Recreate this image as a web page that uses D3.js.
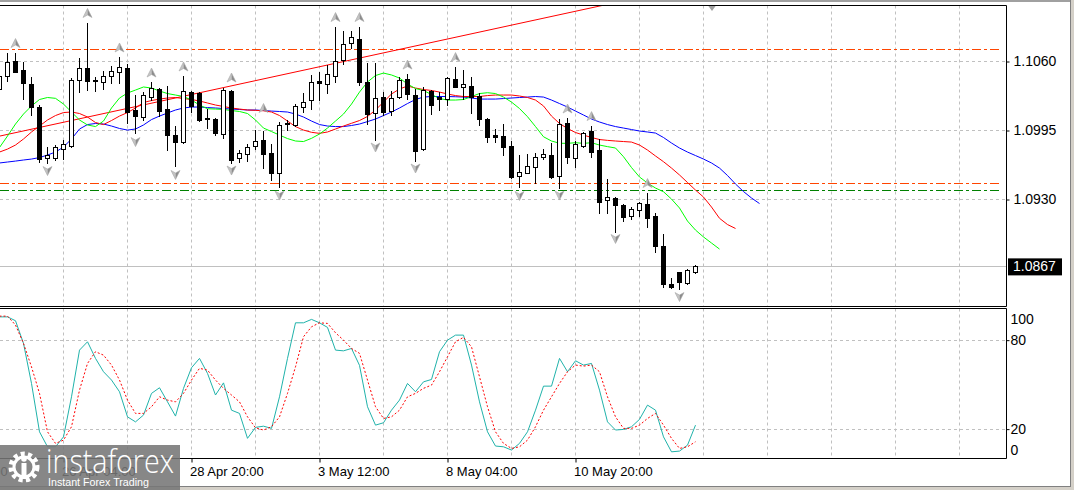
<!DOCTYPE html>
<html><head><meta charset="utf-8">
<script src="https://cdn.jsdelivr.net/npm/d3@7"></script>
<style>html,body{margin:0;padding:0;background:#fff;overflow:hidden}svg{display:block}</style>
</head><body><svg id="c" width="1074" height="490"></svg>
<script>
// ---------- DATA ----------
const openP = [1.10341,1.10468,1.10604,1.10517,1.10392,1.10171,1.09695,1.09695,1.09773,1.09804,
1.10430,1.10538,1.10425,1.10409,1.10463,1.10498,1.10536,1.10143,1.10080,1.10268,
1.10338,1.10152,1.09907,1.09839,1.10310,1.10300,1.10067,1.10055,1.09914,1.10322,
1.09688,1.09726,1.09804,1.09860,1.09735,1.09547,1.10014,1.10002,1.10168,1.10237,
1.10416,1.10385,1.10466,1.10614,1.10777,1.10812,1.10404,1.10112,1.10262,1.10133,
1.10268,1.10435,1.10284,1.09773,1.10322,1.10268,1.10244,1.10435,1.10357,1.10369,
1.10275,1.10055,1.09907,1.09898,1.09804,1.09521,1.09552,1.09603,1.09703,1.09719,
1.09524,1.10018,1.09694,1.09807,1.09945,1.09766,1.09295,1.09317,1.09248,1.09147,
1.09203,1.09257,1.09144,1.08862,1.08504,1.08614,1.08516,1.08620];
const highP = [1.10501,1.10680,1.10684,1.10595,1.10454,1.10190,1.09790,1.09813,1.09860,1.10447,
1.10630,1.10967,1.10454,1.10513,1.10557,1.10639,1.10581,1.10284,1.10312,1.10404,
1.10347,1.10372,1.09995,1.10463,1.10322,1.10310,1.10152,1.10065,1.10347,1.10331,
1.09766,1.09820,1.09954,1.09945,1.09820,1.10033,1.10049,1.10199,1.10300,1.10473,
1.10504,1.10567,1.10922,1.10887,1.10887,1.10922,1.10583,1.10583,1.10310,1.10322,
1.10451,1.10479,1.10341,1.10362,1.10331,1.10312,1.10451,1.10551,1.10520,1.10451,
1.10300,1.10065,1.09961,1.10011,1.09854,1.09719,1.09728,1.09735,1.09778,1.09829,
1.10055,1.10065,1.09854,1.09933,1.09992,1.09867,1.09490,1.09326,1.09257,1.09233,
1.09273,1.09358,1.09175,1.08975,1.08557,1.08620,1.08645,1.08683];
const lowP = [1.10303,1.10416,1.10501,1.10251,1.10099,1.09656,1.09648,1.09672,1.09686,1.09790,
1.10315,1.10331,1.10322,1.10343,1.10397,1.10402,1.10018,1.09923,1.10049,1.10237,
1.10086,1.09766,1.09618,1.09829,1.10127,1.10039,1.09976,1.09907,1.09882,1.09641,
1.09656,1.09662,1.09775,1.09599,1.09483,1.09420,1.09954,1.09995,1.10127,1.10152,
1.10237,1.10300,1.10404,1.10573,1.10730,1.10378,1.10008,1.09860,1.10096,1.10096,
1.10259,1.10246,1.09665,1.09766,1.10105,1.10143,1.10190,1.10357,1.10244,1.10117,
1.10002,1.09844,1.09844,1.09719,1.09499,1.09420,1.09547,1.09452,1.09678,1.09499,
1.09405,1.09641,1.09609,1.09791,1.09697,1.09175,1.09175,1.08996,1.09100,1.09113,
1.09144,1.09044,1.08808,1.08478,1.08464,1.08454,1.08504,1.08610];
const closeP = [1.10463,1.10595,1.10504,1.10402,1.10174,1.09681,1.09716,1.09790,1.09820,1.10425,
1.10543,1.10419,1.10413,1.10463,1.10506,1.10545,1.10127,1.10091,1.10284,1.10347,
1.10133,1.09907,1.09844,1.10322,1.10183,1.10049,1.10061,1.09923,1.10331,1.09672,
1.09735,1.09791,1.09851,1.09726,1.09547,1.10002,1.10020,1.10181,1.10215,1.10404,
1.10394,1.10479,1.10604,1.10762,1.10828,1.10409,1.10102,1.10253,1.10121,1.10259,
1.10423,1.10291,1.09759,1.10331,1.10190,1.10249,1.10441,1.10362,1.10388,1.10268,
1.10055,1.09891,1.09886,1.09791,1.09509,1.09556,1.09615,1.09697,1.09728,1.09509,
1.10011,1.09703,1.09820,1.09923,1.09750,1.09279,1.09320,1.09248,1.09138,1.09212,
1.09264,1.09128,1.08865,1.08504,1.08473,1.08525,1.08636,1.08670];

// Alligator (values per bar index, incl. forward shift)
const jaw = [1.09644,1.09653,1.09662,1.09672,1.09681,1.09695,1.09719,1.09747,1.09794,1.09870,
1.09964,1.10006,1.10016,1.10011,1.09992,1.09969,1.09954,1.09964,1.10002,1.10053,
1.10086,1.10115,1.10143,1.10162,1.10171,1.10171,1.10166,1.10162,1.10157,1.10152,
1.10148,1.10143,1.10143,1.10138,1.10133,1.10129,1.10124,1.10105,1.10077,1.10039,
1.10006,1.09992,1.09987,1.09987,1.09997,1.10011,1.10034,1.10058,1.10091,1.10124,
1.10162,1.10204,1.10242,1.10265,1.10270,1.10270,1.10270,1.10268,1.10265,1.10256,
1.10246,1.10246,1.10246,1.10251,1.10256,1.10261,1.10265,1.10270,1.10265,1.10237,
1.10204,1.10171,1.10133,1.10096,1.10058,1.10030,1.10006,1.09987,1.09973,1.09959,
1.09945,1.09936,1.09926,1.09884,1.09832,1.09785,1.09747,1.09714,1.09681,1.09644,
1.09596,1.09526,1.09446,1.09375,1.09314,1.09262];
const teeth = [1.09747,1.09775,1.09813,1.09870,1.09936,1.09992,1.10049,1.10091,1.10119,1.10124,
1.10110,1.10077,1.10025,1.10006,1.10044,1.10086,1.10119,1.10162,1.10214,1.10232,
1.10246,1.10256,1.10261,1.10251,1.10242,1.10228,1.10209,1.10190,1.10176,1.10162,
1.10152,1.10143,1.10140,1.10136,1.10124,1.10091,1.10039,1.09987,1.09954,1.09933,
1.09923,1.09936,1.09964,1.09992,1.10018,1.10044,1.10082,1.10143,1.10218,1.10294,
1.10341,1.10369,1.10350,1.10336,1.10327,1.10312,1.10294,1.10279,1.10270,1.10270,
1.10270,1.10279,1.10284,1.10284,1.10284,1.10275,1.10261,1.10237,1.10181,1.10086,
1.10016,1.09969,1.09931,1.09907,1.09884,1.09865,1.09857,1.09851,1.09846,1.09841,
1.09813,1.09766,1.09710,1.09656,1.09596,1.09531,1.09460,1.09389,1.09323,1.09229,
1.09123,1.09064,1.09027];
const lips = [1.09790,1.09898,1.10011,1.10105,1.10181,1.10242,1.10261,1.10253,1.10199,1.10124,
1.10049,1.10002,1.09987,1.10039,1.10162,1.10256,1.10303,1.10331,1.10360,1.10350,
1.10322,1.10298,1.10284,1.10270,1.10237,1.10190,1.10155,1.10152,1.10148,1.10138,
1.10129,1.10110,1.10049,1.09973,1.09940,1.09907,1.09874,1.09851,1.09846,1.09876,
1.09917,1.09973,1.10039,1.10105,1.10199,1.10312,1.10407,1.10468,1.10491,1.10473,
1.10444,1.10388,1.10345,1.10327,1.10289,1.10251,1.10237,1.10237,1.10242,1.10270,
1.10298,1.10306,1.10298,1.10265,1.10218,1.10157,1.10080,1.09987,1.09891,1.09851,
1.09830,1.09829,1.09835,1.09829,1.09835,1.09813,1.09798,1.09785,1.09703,1.09601,
1.09512,1.09455,1.09408,1.09373,1.09304,1.09220,1.09097,1.09012,1.08947,1.08890,
1.08833];

// Stochastic
const stochK = [95.7,95.7,93.1,77.8,50.8,18.2,8.1,8.1,14.8,41.8,
73.3,78.9,67.7,58.7,53.1,45.2,28.3,24.9,29.5,44.1,
47.9,38.4,28.8,47.5,61.4,67.7,57.6,43.0,51.2,32.8,
30.6,13.8,21.2,22.0,20.5,41.8,67.7,91.7,91.7,94.0,
91.7,88.6,73.3,72.8,74.4,63.0,35.1,22.7,24.3,32.8,
39.6,50.8,45.2,51.9,53.5,72.2,80.0,83.4,83.4,63.2,
38.4,18.2,8.6,8.1,5.9,10.4,18.2,32.8,49.0,49.0,
67.7,58.7,66.1,63.2,64.3,46.3,24.9,19.4,19.8,21.6,
26.6,36.2,32.8,14.8,4.7,5.2,9.2,22.7];
const stochD = [96.2,96.2,90.2,77.8,62.0,44.1,18.2,10.4,12.6,21.6,
46.3,64.3,72.2,69.9,63.2,53.1,39.6,30.6,30.6,35.1,
41.8,39.6,38.4,44.1,53.1,61.0,59.8,53.1,47.5,43.0,
38.4,28.3,20.9,19.4,21.6,28.3,44.1,62.0,82.3,89.0,
91.7,91.3,85.0,80.0,74.4,71.1,53.1,35.1,27.2,28.3,
32.8,41.8,44.1,47.5,49.7,58.7,68.8,78.9,81.9,75.5,
55.3,35.1,18.2,10.4,7.0,8.1,12.6,21.6,32.8,41.8,
50.8,58.7,63.2,62.5,63.2,58.7,41.8,28.3,20.5,20.5,
22.7,27.2,30.6,22.7,13.8,7.0,8.1,11.5];

// Fractals: bar index and arrow level
const fractalUpIdx = [2,11,15,19,23,29,33,42,45,51,57,71,74,81];
const fractalUpLvl = [1.10774,1.11057,1.10732,1.10496,1.10553,1.10449,1.10162,1.11019,1.11019,1.10571,1.10642,1.10157,1.10086,1.09455];
const fractalDnIdx = [6,17,22,29,35,47,52,65,70,77,85];
const fractalDnLvl = [1.09568,1.09841,1.09531,1.09573,1.09337,1.09790,1.09592,1.09333,1.09337,1.08928,1.08381];

// Trend line anchors and horizontal levels
const trendIdx = [0, 74];
const trendVal = [1.09897, 1.11106];
const levelOrange = [1.10715, 1.09452];
const levelGreen = [1.09386];

// Axis ticks
const priceTicks = [1.0930, 1.0995, 1.1060];
const priceGrid = [1.0930, 1.0995, 1.1060];
const bidPrice = 1.0867;
const stochTicks = [100, 80, 20, 0];
const stochGrid = [80, 20];
const dateIdx = [-8, 8, 24, 40, 56, 72];
const dateLabels = ["21 Apr 12:00", "26 Apr 04:00", "28 Apr 20:00", "3 May 12:00", "8 May 04:00", "10 May 20:00"];
const gridIdx = d3.range(8, 121, 8);

// ---------- LAYOUT ----------
const svg = d3.select('#c');
const FONT = "'Liberation Sans', Arial, sans-serif";
const RIGHT = 1006.5, MT = 5.5, MB = 306.5, ST = 308.5, SB = 458.5;
const x = d3.scaleLinear().domain([0, 120]).range([-0.5, 959.5]);
const y = d3.scaleLinear().domain([1.0930, 1.1060]).range([199.5, 61.5]);
const ys = d3.scaleLinear().domain([0, 100]).range([458.8, 310.5]);
const crisp = v => Math.round(v - 0.5) + 0.5;

svg.append('rect').attr('width', 1074).attr('height', 490).attr('fill', '#fff');

const defs = svg.append('defs');
defs.append('clipPath').attr('id', 'cm').append('rect').attr('x', 0).attr('y', MT).attr('width', RIGHT).attr('height', MB - MT);
defs.append('clipPath').attr('id', 'cs').append('rect').attr('x', 0).attr('y', ST).attr('width', RIGHT).attr('height', SB - ST);

// grid
const grid = svg.append('g').attr('stroke', '#c0c0c0').attr('stroke-width', 1).attr('stroke-dasharray', '3,3');
gridIdx.forEach(i => {
  grid.append('line').attr('x1', x(i)).attr('x2', x(i)).attr('y1', MT).attr('y2', MB);
  grid.append('line').attr('x1', x(i)).attr('x2', x(i)).attr('y1', ST).attr('y2', SB);
});
priceGrid.forEach(p => grid.append('line').attr('x1', 0).attr('x2', RIGHT).attr('y1', crisp(y(p))).attr('y2', crisp(y(p))));
stochGrid.forEach(v => grid.append('line').attr('x1', 0).attr('x2', RIGHT).attr('y1', crisp(ys(v))).attr('y2', crisp(ys(v))));

const main = svg.append('g').attr('clip-path', 'url(#cm)');
// bid line
main.append('line').attr('x1', 0).attr('x2', RIGHT).attr('y1', crisp(y(bidPrice))).attr('y2', crisp(y(bidPrice)))
  .attr('stroke', '#c0c0c0').attr('stroke-width', 1);

// horizontal levels
levelOrange.forEach(p => main.append('line').attr('x1', 0).attr('x2', 1000).attr('y1', crisp(y(p))).attr('y2', crisp(y(p)))
  .attr('stroke', '#ff4500').attr('stroke-width', 1).attr('stroke-dasharray', '9,3,3,3'));
levelGreen.forEach(p => main.append('line').attr('x1', 0).attr('x2', 1000).attr('y1', crisp(y(p))).attr('y2', crisp(y(p)))
  .attr('stroke', '#008000').attr('stroke-width', 1).attr('stroke-dasharray', '9,3,3,3'));

// trend line (extended)
const slope = (trendVal[1] - trendVal[0]) / (trendIdx[1] - trendIdx[0]);
main.append('line')
  .attr('x1', x(trendIdx[0])).attr('y1', y(trendVal[0]))
  .attr('x2', x(100)).attr('y2', y(trendVal[0] + slope * (100 - trendIdx[0])))
  .attr('stroke', '#ff0000').attr('stroke-width', 1);

// alligator
const lineP = d3.line().x((d, i) => x(i)).y(d => y(d));
main.append('path').attr('d', lineP(jaw)).attr('fill', 'none').attr('stroke', '#0000ff').attr('stroke-width', 1);
main.append('path').attr('d', lineP(teeth)).attr('fill', 'none').attr('stroke', '#ff0000').attr('stroke-width', 1);
main.append('path').attr('d', lineP(lips)).attr('fill', 'none').attr('stroke', '#00ff00').attr('stroke-width', 1);

// candles
const bars = d3.range(openP.length).map(i => ({i, o: openP[i], h: highP[i], l: lowP[i], c: closeP[i]}));
const cg = main.append('g');
bars.forEach(b => {
  const cx = x(b.i);
  cg.append('line').attr('x1', cx).attr('x2', cx).attr('y1', Math.round(y(b.h))).attr('y2', Math.round(y(b.l)) + 1)
    .attr('stroke', '#000').attr('stroke-width', 1);
  const top = Math.round(y(Math.max(b.o, b.c))), bot = Math.round(y(Math.min(b.o, b.c)));
  const bull = b.c >= b.o;
  if (bot - top < 1) {
    cg.append('line').attr('x1', cx - 2.5).attr('x2', cx + 2.5).attr('y1', top + 0.5).attr('y2', top + 0.5).attr('stroke', '#000');
  } else {
    cg.append('rect').attr('x', cx - 2).attr('y', top + 0.5).attr('width', 4).attr('height', bot - top)
      .attr('fill', bull ? '#fff' : '#000').attr('stroke', '#000').attr('stroke-width', 1);
  }
});

// fractals
const fg = main.append('g');
function arrow(cx, cy, up) {
  const s = up ? 1 : -1;
  const g = fg.append('g').attr('transform', `translate(${cx},${cy}) scale(1,${s})`);
  g.append('path').attr('d', 'M0,-4.5 L-4.5,4.5 L0,2 Z').attr('fill', '#c4c4c4');
  g.append('path').attr('d', 'M0,-4.5 L4.5,4.5 L0,2 Z').attr('fill', '#8c8c8c');
  g.append('path').attr('d', 'M0,-4.5 L-4.5,4.5 L0,2 L4.5,4.5 Z').attr('fill', 'none').attr('stroke', '#a8a8a8').attr('stroke-width', 0.6);
}
fractalUpIdx.forEach((i, k) => arrow(x(i), y(fractalUpLvl[k]), true));
fractalDnIdx.forEach((i, k) => arrow(x(i), y(fractalDnLvl[k]), false));

// chart shift marker
svg.append('path').attr('d', 'M708,5.5 L716,5.5 L712,11 Z').attr('fill', '#a0a0a0');

// stochastic
const sub = svg.append('g').attr('clip-path', 'url(#cs)');
const lineS = d3.line().x((d, i) => x(i)).y(d => ys(d));
sub.append('path').attr('d', lineS(stochK)).attr('fill', 'none').attr('stroke', '#20b2aa').attr('stroke-width', 1);
sub.append('path').attr('d', lineS(stochD)).attr('fill', 'none').attr('stroke', '#ff0000').attr('stroke-width', 1).attr('stroke-dasharray', '2,2');

// frames
const fr = svg.append('g').attr('fill', 'none').attr('stroke', '#000').attr('stroke-width', 1);
fr.append('path').attr('d', `M0,${MT} H${RIGHT} V${MB} H0`);
fr.append('path').attr('d', `M0,${ST} H${RIGHT} V${SB} H0`);

// right price axis
const axR = svg.append('g').attr('transform', `translate(${RIGHT},0)`)
  .call(d3.axisRight(y).tickValues(priceTicks).tickSize(3).tickPadding(4).tickFormat(d3.format('.4f')));
axR.select('.domain').remove();
axR.selectAll('text').attr('font-family', FONT).attr('font-size', 14).attr('fill', '#000');

// bid label
const bidY = y(bidPrice);
svg.append('rect').attr('x', 1008).attr('y', bidY - 8).attr('width', 54).attr('height', 17).attr('fill', '#000');
svg.append('text').attr('x', 1013).attr('y', bidY).attr('dy', '0.35em').attr('font-family', FONT).attr('font-size', 14)
  .attr('fill', '#fff').text(d3.format('.4f')(bidPrice));

// stochastic axis
const axS = svg.append('g').attr('transform', `translate(${RIGHT},0)`)
  .call(d3.axisRight(ys).tickValues(stochTicks).tickSize(3).tickPadding(1).tickFormat(d3.format('d')));
axS.select('.domain').remove();
axS.selectAll('text').attr('font-family', FONT).attr('font-size', 14).attr('fill', '#000');
axS.selectAll('.tick').filter(d => d === 100).select('text').attr('dy', '0.95em');
axS.selectAll('.tick').filter(d => d === 0).select('text').attr('dy', '-0.3em');
axS.selectAll('.tick').filter(d => d === 100 || d === 0).select('line').remove();

// bottom time axis
const axB = svg.append('g').attr('transform', `translate(0,${SB})`)
  .call(d3.axisBottom(x).tickValues(dateIdx).tickSize(4).tickFormat((d, k) => dateLabels[k]));
axB.select('.domain').remove();
axB.selectAll('text').attr('font-family', FONT).attr('font-size', 13).attr('fill', '#000')
  .attr('text-anchor', 'start').attr('dx', -2).attr('y', 6).attr('dy', '0.85em');

// window edges
svg.append('rect').attr('x', 0).attr('y', 0).attr('width', 1074).attr('height', 2).attr('fill', '#a0a0a0');
svg.append('rect').attr('x', 1071).attr('y', 0).attr('width', 3).attr('height', 490).attr('fill', '#d4d0c8');
svg.append('rect').attr('x', 0).attr('y', 487).attr('width', 1074).attr('height', 3).attr('fill', '#d4d0c8');
svg.append('line').attr('x1', 1070.5).attr('x2', 1070.5).attr('y1', 0).attr('y2', 487).attr('stroke', '#808080');
svg.append('line').attr('x1', 0).attr('x2', 1071).attr('y1', 486.5).attr('y2', 486.5).attr('stroke', '#808080');

// watermark
const wm = svg.append('g');
wm.append('rect').attr('x', 0).attr('y', 445).attr('width', 180).attr('height', 45).attr('fill', '#767676').attr('opacity', 0.88);
const gear = wm.append('g').attr('transform', 'translate(24,467)');
gear.append('circle').attr('r', 13).attr('fill', 'none').attr('stroke', '#fff').attr('stroke-width', 5).attr('stroke-dasharray', '4,3.2');
gear.append('circle').attr('r', 10).attr('fill', 'none').attr('stroke', '#fff').attr('stroke-width', 3);
gear.append('rect').attr('x', -2.5).attr('y', -4).attr('width', 5).attr('height', 16).attr('fill', '#fff');
gear.append('circle').attr('cy', -8).attr('r', 2.8).attr('fill', '#fff');
wm.append('text').attr('x', 46).attr('y', 473).attr('font-family', "'Open Sans', sans-serif").attr('font-weight', 300)
  .attr('font-size', 33).attr('fill', '#fff').attr('textLength', 128).attr('lengthAdjust', 'spacingAndGlyphs').text('instaforex');
wm.append('text').attr('x', 48).attr('y', 486).attr('font-family', FONT).attr('font-size', 11.5)
  .attr('fill', '#fff').attr('textLength', 101).attr('lengthAdjust', 'spacingAndGlyphs').text('Instant Forex Trading');
</script></body></html>
